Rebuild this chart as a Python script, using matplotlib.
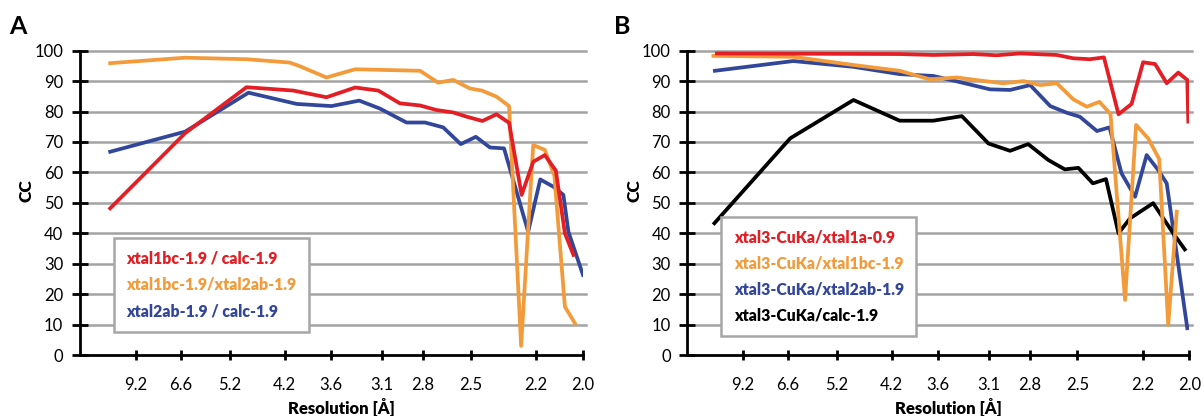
import matplotlib
matplotlib.use("Agg")
import matplotlib.pyplot as plt

# --- data (x = position along resolution axis, 0..100 ; y = CC) ---
tick_pos = [11.1, 20.0, 29.8, 40.7, 49.9, 60.0, 68.2, 77.7, 90.7, 100.0]
tick_labels = ["9.2", "6.6", "5.2", "4.2", "3.6", "3.1", "2.8", "2.5", "2.2", "2.0"]

# panel A
a_red_x = [6.0, 20.9, 33.1, 42.4, 49.0, 54.7, 59.3, 63.6, 67.6, 70.9, 74.2, 76.9,
           80.0, 82.8, 85.3, 87.8, 90.1, 92.4, 94.6, 96.4, 98.1]
a_red_y = [48.2, 72.9, 88.0, 86.9, 84.7, 87.9, 86.9, 82.7, 82.0, 80.5, 79.7, 78.3,
           76.9, 79.1, 76.3, 52.6, 63.5, 65.7, 60.6, 40.0, 32.9]

a_orange_x = [6.0, 20.9, 33.1, 41.7, 43.7, 49.0, 54.7, 67.6, 71.2, 74.2, 77.5, 79.9,
              82.8, 85.3, 87.7, 90.1, 92.4, 94.3, 96.4, 98.4]
a_orange_y = [95.9, 97.7, 97.2, 96.1, 94.9, 91.2, 93.9, 93.4, 89.5, 90.4, 87.6, 86.9,
              84.9, 81.8, 3.0, 69.0, 67.4, 59.0, 15.9, 10.4]

a_blue_x = [6.0, 20.9, 33.5, 43.1, 50.0, 55.5, 59.6, 64.9, 68.6, 72.2, 75.7, 78.7,
            81.5, 84.3, 89.1, 91.5, 94.1, 96.1, 97.1, 100.0]
a_blue_y = [66.8, 73.4, 86.2, 82.5, 81.8, 83.6, 81.0, 76.4, 76.4, 74.8, 69.3, 71.7,
            68.2, 67.9, 40.5, 57.7, 55.3, 52.6, 40.5, 26.3]

# panel B
b_red_x = [5.9, 42.3, 49.0, 57.0, 61.6, 66.3, 73.6, 76.9, 80.2, 83.0, 85.9, 88.5,
           90.8, 93.2, 95.5, 97.8, 99.6, 99.8]
b_red_y = [99.1, 98.9, 98.6, 98.9, 98.5, 99.1, 98.6, 97.5, 97.2, 97.8, 79.1, 82.5,
           96.2, 95.6, 89.3, 92.8, 90.4, 76.7]

b_orange_x = [5.2, 21.1, 33.1, 42.3, 48.3, 53.7, 58.3, 62.9, 67.0, 70.3, 73.6, 76.9,
              79.6, 82.1, 84.3, 87.2, 89.4, 91.8, 94.0, 95.8, 97.5]
b_orange_y = [98.3, 98.0, 95.3, 93.4, 90.6, 91.2, 90.2, 89.3, 90.0, 88.7, 89.3, 84.0,
              81.6, 83.2, 79.2, 18.1, 75.6, 71.2, 64.4, 9.9, 47.1]

b_blue_x = [5.5, 21.1, 33.1, 42.3, 49.0, 54.0, 60.3, 64.3, 68.3, 72.3, 75.6, 78.2,
            81.6, 84.1, 86.5, 89.2, 91.5, 93.8, 95.5, 99.6]
b_blue_y = [93.4, 96.6, 94.7, 92.3, 91.7, 89.8, 87.3, 87.1, 88.7, 81.8, 79.6, 78.3,
            73.6, 74.8, 59.7, 52.0, 65.7, 60.8, 56.4, 8.8]

b_black_x = [5.4, 20.5, 33.1, 42.3, 49.0, 54.7, 60.0, 64.3, 67.9, 71.9, 75.2, 77.9,
             80.8, 83.4, 85.9, 88.2, 92.8, 96.8, 99.1]
b_black_y = [43.3, 71.2, 83.8, 77.0, 77.0, 78.5, 69.5, 67.1, 69.3, 64.1, 61.0, 61.5,
             56.4, 57.8, 40.0, 44.9, 49.9, 40.0, 34.7]

RED = "#e31e24"
ORANGE = "#f39b3a"
BLUE = "#33479a"
BLACK = "#000000"

plt.rcParams["font.family"] = ["Lato", "DejaVu Sans"]

fig = plt.figure(figsize=(12.04, 4.16), dpi=100)
W, H = 1204, 416


def make_axes(x0, x1):
    y0, y1 = 355, 50.7
    ax = fig.add_axes([x0 / W, 1 - y0 / H, (x1 - x0) / W, (y0 - y1) / H])
    ax.set_xlim(0, 100)
    ax.set_ylim(0, 100)
    for s in ["top", "right"]:
        ax.spines[s].set_visible(False)
    for s in ["left", "bottom"]:
        ax.spines[s].set_linewidth(2)
    for g in range(10, 101, 10):
        ax.plot([0, 100.5], [g, g], color="#a3a3a3", lw=1.8, zorder=1, clip_on=False)
    ax.set_yticks(range(0, 101, 10))
    ax.set_xticks(tick_pos)
    ax.set_xticklabels(tick_labels)
    ax.tick_params(axis="y", direction="inout", length=12, width=2, pad=6, labelsize=12)
    ax.tick_params(axis="x", direction="inout", length=7, width=2, pad=12, labelsize=12)
    ax.set_ylabel("CC", fontsize=12.5, fontweight="heavy")
    ax.yaxis.set_label_coords(-0.09, 0.54)
    ax.set_xlabel("Resolution [Å]", fontsize=12, fontweight="heavy")
    ax.xaxis.set_label_coords(0.52, -0.14)
    return ax


def add_legend(ax, lines, x, y):
    leg = ax.legend(handles=lines, loc="upper left", bbox_to_anchor=(x, y),
                    handlelength=0, handletextpad=0, labelcolor="linecolor",
                    frameon=True, fancybox=False, framealpha=1, borderpad=0.8,
                    labelspacing=0.65, prop={"weight": "heavy", "size": 11.3})
    leg.get_frame().set_edgecolor("#a6a6a6")
    leg.get_frame().set_linewidth(1.8)
    for h in leg.legend_handles:
        h.set_visible(False)
    leg.set_zorder(5)


lw = 2.7

axA = make_axes(80, 583)
lA = []
lA += axA.plot(a_red_x, a_red_y, color=RED, lw=lw, label="xtal1bc-1.9 / calc-1.9", zorder=4)
lA += axA.plot(a_orange_x, a_orange_y, color=ORANGE, lw=lw, label="xtal1bc-1.9/xtal2ab-1.9", zorder=3)
lA += axA.plot(a_blue_x, a_blue_y, color=BLUE, lw=lw, label="xtal2ab-1.9 / calc-1.9", zorder=2)
add_legend(axA, lA, 0.052, 0.41)

axB = make_axes(687.3, 1189.3)
lB = []
lB += axB.plot(b_red_x, b_red_y, color=RED, lw=lw, label="xtal3-CuKa/xtal1a-0.9", zorder=4)
lB += axB.plot(b_orange_x, b_orange_y, color=ORANGE, lw=lw, label="xtal3-CuKa/xtal1bc-1.9", zorder=3)
lB += axB.plot(b_blue_x, b_blue_y, color=BLUE, lw=lw, label="xtal3-CuKa/xtal2ab-1.9", zorder=2)
lB += axB.plot(b_black_x, b_black_y, color=BLACK, lw=lw, label="xtal3-CuKa/calc-1.9", zorder=2)
add_legend(axB, lB, 0.052, 0.48)

fig.text(9 / W, 1 - 26 / H, "A", fontsize=18, fontweight="bold", va="center", ha="left")
fig.text(614 / W, 1 - 26 / H, "B", fontsize=18, fontweight="bold", va="center", ha="left")

fig.savefig("out.png", dpi=100)
